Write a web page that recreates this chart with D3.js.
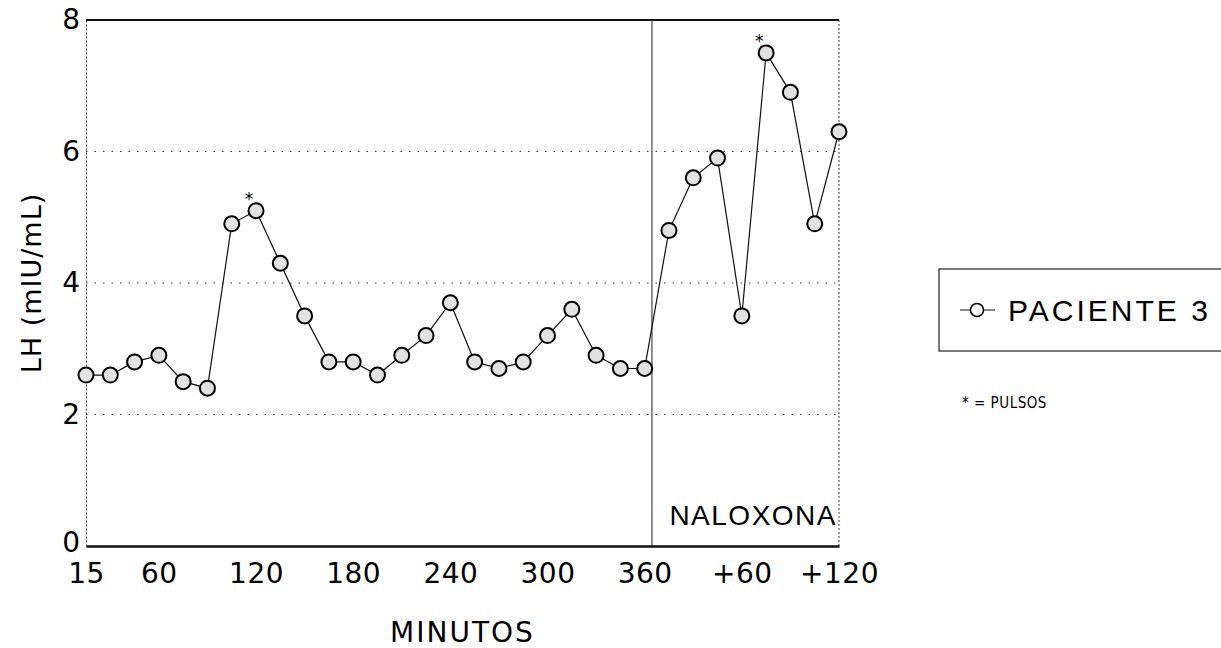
<!DOCTYPE html>
<html>
<head>
<meta charset="utf-8">
<script src="https://cdn.jsdelivr.net/npm/d3@7"></script>
<style>
  body { margin: 0; background: #fff; }
  svg { font-family: "DejaVu Sans", sans-serif; }
</style>
</head>
<body>
<div id="chart"></div>
<script>
// LH samples every 15 min (360 min basal + 120 min naloxona)
const lhValues = [2.6, 2.6, 2.8, 2.9, 2.5, 2.4, 4.9, 5.1, 4.3, 3.5, 2.8, 2.8,
  2.6, 2.9, 3.2, 3.7, 2.8, 2.7, 2.8, 3.2, 3.6, 2.9, 2.7, 2.7,
  4.8, 5.6, 5.9, 3.5, 7.5, 6.9, 4.9, 6.3];
const pulseIdx = [7, 28];
const tickIdx = [0, 3, 7, 11, 15, 19, 23, 27, 31];
const tickLabels = ['15', '60', '120', '180', '240', '300', '360', '+60', '+120'];
const yTicks = [0, 2, 4, 6, 8];
const naloxonaAt = 23.3;

const width = 1221;
const height = 648;
const margin = { top: 20, right: 382, bottom: 102, left: 86 };

const svg = d3.select('#chart')
  .append('svg')
  .attr('width', width)
  .attr('height', height);

const x = d3.scaleLinear()
  .domain([0, lhValues.length - 1])
  .range([margin.left, width - margin.right]);

const y = d3.scaleLinear()
  .domain([0, 8])
  .range([height - margin.bottom, margin.top]);

// grid lines
svg.append('g')
  .selectAll('line')
  .data(yTicks.filter(d => d > 0 && d < 8))
  .join('line')
    .attr('x1', x(0)).attr('x2', x(31))
    .attr('y1', d => y(d)).attr('y2', d => y(d))
    .attr('stroke', '#333')
    .attr('stroke-width', 1)
    .attr('stroke-dasharray', '1.5,7');

// frame: dotted right side, solid top
svg.append('line')
  .attr('x1', x(31)).attr('x2', x(31))
  .attr('y1', y(8)).attr('y2', y(0))
  .attr('stroke', '#444').attr('stroke-dasharray', '2,2');
svg.append('line')
  .attr('x1', x(0)).attr('x2', x(31))
  .attr('y1', y(8)).attr('y2', y(8))
  .attr('stroke', '#111').attr('stroke-width', 2);

// naloxona marker
svg.append('line')
  .attr('x1', x(naloxonaAt)).attr('x2', x(naloxonaAt))
  .attr('y1', y(8)).attr('y2', y(0))
  .attr('stroke', '#222').attr('stroke-width', 1);
svg.append('text')
  .attr('x', x(31) - 2)
  .attr('y', y(0) - 21)
  .attr('text-anchor', 'end')
  .attr('font-size', 28)
  .attr('font-family', '"Liberation Sans", Arial, sans-serif')
  .attr('letter-spacing', 1.5)
  .text('NALOXONA');

// Y axis
const yAxis = svg.append('g')
  .attr('transform', `translate(${margin.left},0)`)
  .call(d3.axisLeft(y).tickValues(yTicks).tickSize(0).tickPadding(6));
yAxis.select('.domain').attr('stroke', '#444').attr('stroke-dasharray', '2,2');
yAxis.selectAll('text').attr('font-size', 28).attr('fill', '#000')
  .attr('font-family', '"DejaVu Sans", sans-serif');
yAxis.selectAll('.tick').filter(d => d === 0).select('text').attr('dy', '0.2em');

// X axis
const xAxis = svg.append('g')
  .attr('transform', `translate(0,${height - margin.bottom})`)
  .call(d3.axisBottom(x).tickValues(tickIdx).tickSize(0).tickPadding(17)
    .tickFormat((d, i) => tickLabels[i]));
xAxis.select('.domain').attr('stroke', '#111').attr('stroke-width', 2.5);
xAxis.selectAll('text').attr('font-size', 28).attr('fill', '#000')
  .attr('letter-spacing', 0.5)
  .attr('font-family', '"DejaVu Sans", sans-serif');

// axis titles
svg.append('text')
  .attr('transform', `translate(41,${(y(0) + y(8)) / 2}) rotate(-90)`)
  .attr('text-anchor', 'middle')
  .attr('font-size', 27)
  .attr('letter-spacing', 1)
  .text('LH (mIU/mL)');
svg.append('text')
  .attr('x', (x(0) + x(31)) / 2)
  .attr('y', 642)
  .attr('text-anchor', 'middle')
  .attr('font-size', 28)
  .attr('letter-spacing', 2)
  .text('MINUTOS');

// series
const line = d3.line()
  .x((d, i) => x(i))
  .y(d => y(d));
svg.append('path')
  .datum(lhValues)
  .attr('fill', 'none')
  .attr('stroke', '#111')
  .attr('stroke-width', 1.2)
  .attr('d', line);

svg.append('g')
  .selectAll('circle')
  .data(lhValues)
  .join('circle')
    .attr('cx', (d, i) => x(i))
    .attr('cy', d => y(d))
    .attr('r', 7.5)
    .attr('fill', '#e2e2e2')
    .attr('stroke', '#000')
    .attr('stroke-width', 2);

// pulse asterisks
svg.append('g')
  .selectAll('text')
  .data(pulseIdx)
  .join('text')
    .attr('x', i => x(i) - 7)
    .attr('y', i => y(lhValues[i]) - 6)
    .attr('text-anchor', 'middle')
    .attr('font-size', 17)
    .text('*');

// legend
const lg = svg.append('g').attr('transform', 'translate(939,269)');
lg.append('rect')
  .attr('width', 300).attr('height', 82)
  .attr('fill', 'none').attr('stroke', '#222').attr('stroke-width', 1.2);
lg.append('line')
  .attr('x1', 21).attr('x2', 56).attr('y1', 41).attr('y2', 41)
  .attr('stroke', '#111');
lg.append('circle')
  .attr('cx', 38).attr('cy', 41).attr('r', 6.5)
  .attr('fill', '#fff').attr('stroke', '#000').attr('stroke-width', 1.5);
lg.append('text')
  .attr('x', 69).attr('y', 52)
  .attr('font-size', 30)
  .attr('font-family', '"Liberation Sans", Arial, sans-serif')
  .attr('letter-spacing', 3)
  .text('PACIENTE 3');

svg.append('text')
  .attr('x', 962).attr('y', 408)
  .attr('font-size', 15)
  .attr('font-family', '"DejaVu Sans Condensed", sans-serif')
  .attr('font-stretch', 'condensed')
  .attr('letter-spacing', 0.5)
  .text('* = PULSOS');
</script>
</body>
</html>
